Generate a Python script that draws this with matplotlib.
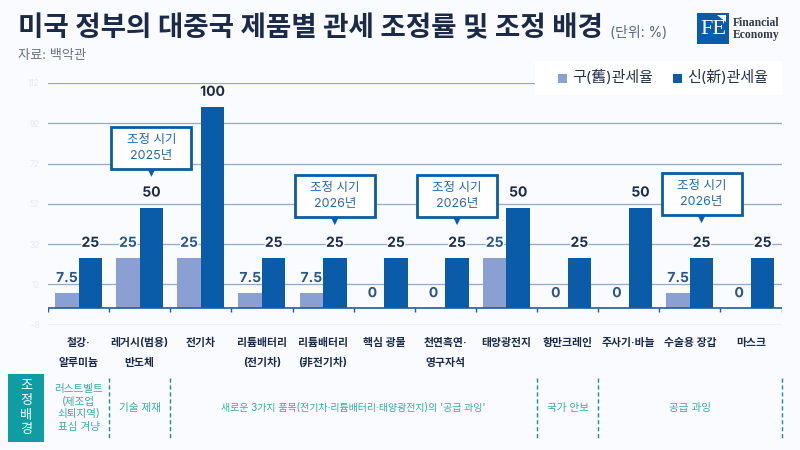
import matplotlib
matplotlib.use("Agg")
import matplotlib.pyplot as plt
import matplotlib.patheffects as pe
from matplotlib.patches import Rectangle, Polygon
from matplotlib.transforms import blended_transform_factory, Affine2D
import numpy as np

FONTS = ['Inter', 'Noto Sans CJK KR', 'DejaVu Sans']
plt.rcParams['font.family'] = FONTS

categories = ['철강·\n알루미늄', '레거시(범용)\n반도체', '전기차', '리튬배터리\n(전기차)', '리튬배터리\n(非전기차)',
              '핵심 광물', '천연흑연·\n영구자석', '태양광전지', '항만크레인', '주사기·바늘', '수술용 장갑', '마스크']
old_rate = [7.5, 25, 25, 7.5, 7.5, 0, 0, 25, 0, 0, 7.5, 0]
new_rate = [25, 50, 100, 25, 25, 25, 25, 50, 25, 50, 25, 25]
y_ticks = [-8, 12, 32, 52, 72, 92, 112]
callouts = [(1, '조정 시기\n2025년', 60), (4, '조정 시기\n2026년', 62), (6, '조정 시기\n2026년', 62), (10, '조정 시기\n2026년', 64)]
background_groups = [('러스트벨트\n(제조업\n쇠퇴지역)\n표심 겨냥', 0, 1), ('기술 제재', 1, 2),
                     ("새로운 3가지 품목(전기차·리튬배터리·태양광전지)의 '공급 과잉'", 2, 8),
                     ('국가 안보', 8, 9), ('공급 과잉', 9, 12)]

BG = '#F9FBFF'; NEW = '#0B5CA8'; OLD = '#8AA0D3'; NAVY = '#1B2A49'; TEAL = '#0E9DA3'
W, H = 800, 450
fig = plt.figure(figsize=(8, 4.5), dpi=100, facecolor=BG)
fy = lambda p: 1 - p / H
fx = lambda p: p / W
L, R, T, B = 48, 781.5, 83, 324.6
ax = fig.add_axes([fx(L), fy(B), fx(R - L), (B - T) / H])
ax.set_facecolor('none')
ax.set_xlim(-0.5, 11.5); ax.set_ylim(-8, 112)

x = np.arange(len(categories))
bw = 0.385
ax.bar(x - bw / 2, old_rate, bw, color=OLD, zorder=3)
ax.bar(x + bw / 2, new_rate, bw, color=NEW, zorder=3)

halo = [pe.withStroke(linewidth=2, foreground=BG)]
for i in x:
    ax.annotate(f'{old_rate[i]:g}', (i - bw / 2, old_rate[i]), xytext=(0, 6), textcoords='offset points',
                ha='center', va='bottom', fontsize=10, fontweight='bold', color='#2A5585', zorder=2.5, path_effects=halo)
    ax.annotate(f'{new_rate[i]:g}', (i + bw / 2, new_rate[i]), xytext=(0, 6), textcoords='offset points',
                ha='center', va='bottom', fontsize=10, fontweight='bold', color=NAVY, zorder=4, path_effects=halo)

for s in ax.spines.values():
    s.set_visible(False)
ax.set_yticks(y_ticks)
ax.tick_params(axis='y', length=0, labelsize=6, labelcolor='#E4EAF4', pad=6)
ax.grid(axis='y', color='#94ABC8', lw=0.9, zorder=0)
ax.set_axisbelow(True)
ax.set_xticks([])
ax.axhline(0, color='#1F5C99', lw=1.2, zorder=5)
ax.vlines(np.arange(-0.5, 12, 1), -1.6, 0, color='#1F5C99', lw=1, zorder=5)

xt = blended_transform_factory(ax.transData, fig.transFigure)
for i, c in enumerate(categories):
    for j, line in enumerate(c.split('\n')):
        ax.text(i, fy(343 + j * 20), line, transform=xt, ha='center', va='center', fontsize=7.8,
                fontweight='bold', color=NAVY, clip_on=False)

# callouts: box and pointer, placed in pixels above the bar they refer to
fig.canvas.draw()
for i, text, off in callouts:
    px, py = ax.transData.transform((i + bw / 2, new_rate[i]))
    tr = Affine2D().translate(px, py)
    ax.add_patch(Rectangle((-40, off - 21), 80, 42, transform=tr, fc='white', ec=NEW, lw=2, zorder=7, clip_on=False))
    ax.add_patch(Polygon([(-4, off - 21), (4, off - 21), (0, off - 29)], transform=tr, fc=NEW, ec='none', zorder=7, clip_on=False))
    ax.annotate(text, (i + bw / 2, new_rate[i]), xytext=(0, off * 0.72), textcoords='offset points',
                ha='center', va='center', fontsize=9, color='#2468B0', linespacing=1.45, zorder=8)

# background strip
fig.add_artist(Rectangle((fx(8), fy(442)), fx(36), 68 / H, transform=fig.transFigure, fc=TEAL, ec='none'))
for j, ch in enumerate('조정배경'):
    fig.text(fx(26), fy(386 + j * 14.8), ch, ha='center', va='center', fontsize=9.5, color='white')
for text, a, b in background_groups:
    ax.text((a + b) / 2 - 0.5, fy(408), text, transform=xt, ha='center', va='center',
            fontsize=7.2 if len(text) > 30 else 7.6, color='#3BA8AA', linespacing=1.3, clip_on=False)
for b in [1, 2, 8, 9, 12]:
    ax.plot([b - 0.5, b - 0.5], [fy(378), fy(439)], transform=xt, color='#1C8F96', lw=1,
            ls=(0, (3, 2)), clip_on=False)

# legend
fig.add_artist(Rectangle((fx(535), fy(95)), fx(247), 34 / H, transform=fig.transFigure, fc='white', ec='none', zorder=5))
for px, col, lab in [(558, OLD, '구(舊)관세율'), (673, NEW, '신(新)관세율')]:
    fig.add_artist(Rectangle((fx(px), fy(83)), fx(9), 9 / H, transform=fig.transFigure, fc=col, ec='none', zorder=6))
    fig.text(fx(px + 14), fy(77.5), lab, ha='left', va='center', fontsize=10.8, color='#24324F', zorder=6)

# title
fig.text(fx(18), fy(29), '미국 정부의 대중국 제품별 관세 조정률 및 조정 배경', ha='left', va='center', fontsize=19.9,
         fontweight='bold', color=NAVY)
fig.text(fx(610), fy(33), '(단위: %)', ha='left', va='center', fontsize=10, color='#5A6580')
fig.text(fx(18), fy(56), '자료: 백악관', ha='left', va='center', fontsize=9.5, color='#6B7385')

# logo
fig.add_artist(Rectangle((fx(697), fy(44)), fx(32), 31 / H, transform=fig.transFigure, fc=NEW, ec='none'))
fig.text(fx(713), fy(29), 'FE', ha='center', va='center', fontsize=16, color='white', family='Liberation Serif')
fig.add_artist(Polygon([(fx(717), fy(15)), (fx(726), fy(15)), (fx(726), fy(22))], transform=fig.transFigure, fc='white', ec='none'))
fig.text(fx(733), fy(23), 'Financial', ha='left', va='center', fontsize=8.4, fontweight='bold', color='#333A45', family='Liberation Serif')
fig.text(fx(733), fy(35), 'Economy', ha='left', va='center', fontsize=8.4, fontweight='bold', color='#333A45', family='Liberation Serif')

fig.savefig('out.png', dpi=100, facecolor=BG)
